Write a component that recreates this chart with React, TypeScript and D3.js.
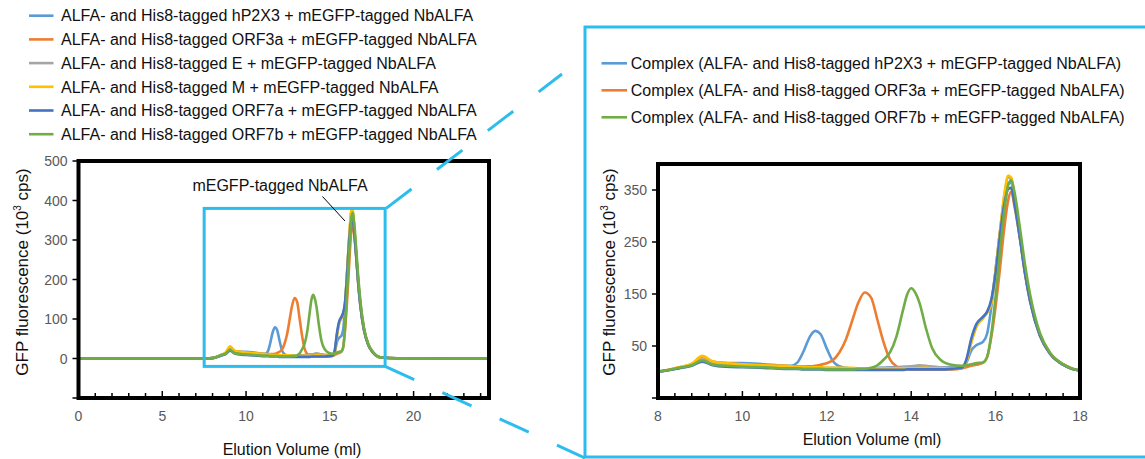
import { useEffect, useRef } from 'react';
import * as d3 from 'd3';

// elution volume (ml) sampling points shared by all traces
const volumes = [0, 7.6, 8.0, 8.5, 8.8, 9.05, 9.3, 9.6, 10.0, 10.5, 11.0, 11.15, 11.3, 11.45, 11.6, 11.73, 11.85, 12.0, 12.15, 12.3,
  12.45, 12.6, 12.75, 12.9, 13.05, 13.2, 13.35, 13.5, 13.65, 13.8, 13.9, 14.0, 14.1, 14.2, 14.35, 14.5, 14.7, 14.95, 15.2, 15.3,
  15.43, 15.55, 15.7, 15.8, 15.9, 16.0, 16.1, 16.2, 16.3, 16.37, 16.45, 16.58, 16.7, 16.82, 17.05, 17.3, 17.6, 18.0, 19.0, 24.5];

// GFP fluorescence (10^3 cps)
const hP2X3 = [0, 0, 1, 8, 13, 23, 17, 17, 17, 15, 12, 12, 18, 40, 68, 79, 73, 45, 20, 11,
  8, 7, 7, 7, 7, 8, 8, 9, 9, 10, 10, 10, 10, 10, 10, 10, 9, 9, 10, 17,
  42, 52, 58, 74, 126, 196, 267, 324, 362, 364, 330, 258, 190, 138, 70, 34, 14, 3, 0.5, 0];
const orf3a = [0, 0, 1, 9, 15, 29, 20, 17, 15, 13, 12, 11, 11, 11, 11, 12, 14, 17, 23, 38,
  62, 98, 134, 153, 143, 100, 56, 24, 11, 7, 6, 5, 5, 5, 5, 5, 5, 5, 7, 9,
  12, 14, 18, 29, 68, 126, 196, 273, 331, 347, 318, 255, 188, 135, 70, 34, 14, 3, 0.5, 0];
const eProt = [0, 0, 1, 8, 14, 24, 17, 15, 13, 11, 10, 10, 9, 9, 9, 8, 8, 8, 8, 8,
  7, 7, 7, 7, 7, 7, 8, 8, 8, 9, 10, 11, 12, 13, 12, 10, 9, 8, 9, 20,
  60, 88, 104, 115, 135, 196, 267, 335, 374, 372, 335, 262, 195, 140, 72, 35, 15, 3, 0.5, 0];
const mProt = [0, 0, 1, 9, 16, 31, 20, 17, 15, 13, 12, 11, 10, 10, 9, 9, 9, 8, 8, 8,
  8, 8, 7, 7, 7, 7, 7, 7, 7, 7, 7, 7, 7, 8, 8, 7, 7, 7, 8, 18,
  58, 88, 103, 114, 132, 196, 267, 337, 378, 374, 336, 262, 195, 140, 72, 35, 15, 3, 0.5, 0];
const orf7a = [0, 0, 1, 7, 12, 20, 13, 10, 9, 8, 6, 6, 6, 5, 5, 5, 5, 4, 4, 4,
  4, 4, 4, 4, 4, 4, 4, 4, 4, 4, 5, 5, 5, 5, 5, 5, 5, 6, 8, 22,
  66, 93, 106, 116, 140, 190, 260, 320, 352, 354, 322, 255, 188, 135, 70, 34, 14, 3, 0.5, 0];
const orf7b = [0, 0, 1, 8, 13, 22, 14, 12, 10, 9, 7, 7, 7, 6, 6, 6, 6, 5, 5, 5,
  5, 5, 6, 6, 8, 13, 24, 38, 68, 117, 148, 161, 152, 132, 84, 45, 23, 14, 12, 13,
  15, 17, 18, 29, 74, 145, 228, 305, 360, 369, 345, 275, 205, 148, 75, 36, 15, 3, 0.5, 0];

const leftLabels = [
  'ALFA- and His8-tagged hP2X3 + mEGFP-tagged NbALFA',
  'ALFA- and His8-tagged ORF3a + mEGFP-tagged NbALFA',
  'ALFA- and His8-tagged E + mEGFP-tagged NbALFA',
  'ALFA- and His8-tagged M + mEGFP-tagged NbALFA',
  'ALFA- and His8-tagged ORF7a + mEGFP-tagged NbALFA',
  'ALFA- and His8-tagged ORF7b + mEGFP-tagged NbALFA',
];
const rightLabels = [
  'Complex (ALFA- and His8-tagged hP2X3 + mEGFP-tagged NbALFA)',
  'Complex (ALFA- and His8-tagged ORF3a + mEGFP-tagged NbALFA)',
  'Complex (ALFA- and His8-tagged ORF7b + mEGFP-tagged NbALFA)',
];
const colors = ['#5B9BD5', '#ED7D31', '#A5A5A5', '#FFC000', '#4472C4', '#70AD47'];

const leftXTicks = [0, 5, 10, 15, 20];
const leftYTicks = [0, 100, 200, 300, 400, 500];
const rightXTicks = [8, 10, 12, 14, 16, 18];
const rightYTicks = [50, 150, 250, 350];

const FONT = 'Arial, "Liberation Sans", sans-serif';
const ZOOM_BLUE = '#2CBDEE';

function App() {
  const ref = useRef<SVGSVGElement | null>(null);

  useEffect(() => {
    const svg = d3.select(ref.current);
    svg.selectAll('*').remove();

    const series = [hP2X3, orf3a, eProt, mProt, orf7a, orf7b].map((vals, i) => ({
      color: colors[i],
      points: volumes.map((v, j) => [v, vals[j]] as [number, number]),
    }));

    const drawPanel = (opts: {
      id: string; x: d3.ScaleLinear<number, number>; y: d3.ScaleLinear<number, number>;
      xTicks: number[]; yTicks: number[]; yTickAll: number[]; minorStep: number; majorStep: number;
      titleX: number; titleYX: number; xTitleY: number;
    }) => {
      const { x, y } = opts;
      const [x0, x1] = x.range();
      const [yb, yt] = y.range();
      const g = svg.append('g');

      g.append('clipPath').attr('id', opts.id)
        .append('rect').attr('x', x0).attr('y', yt).attr('width', x1 - x0).attr('height', yb - yt);

      const line = d3.line<[number, number]>()
        .x(d => x(d[0]))
        .y(d => y(d[1]))
        .curve(d3.curveMonotoneX);

      g.append('g').attr('clip-path', `url(#${opts.id})`)
        .selectAll('path')
        .data(series)
        .enter()
        .append('path')
        .attr('d', d => line(d.points))
        .attr('fill', 'none')
        .attr('stroke', d => d.color)
        .attr('stroke-width', 2.6)
        .attr('stroke-linejoin', 'round');

      // frame
      g.append('rect')
        .attr('x', x0).attr('y', yt).attr('width', x1 - x0).attr('height', yb - yt)
        .attr('fill', 'none').attr('stroke', '#000').attr('stroke-width', 4);

      // y ticks (outward) and labels
      opts.yTickAll.forEach(t => {
        g.append('line').attr('x1', x0 - 6).attr('x2', x0).attr('y1', y(t)).attr('y2', y(t))
          .attr('stroke', '#000').attr('stroke-width', 1.5);
      });
      g.selectAll('text.ytick').data(opts.yTicks).enter().append('text')
        .attr('x', x0 - 11).attr('y', d => y(d) + 5)
        .attr('text-anchor', 'end')
        .style('font-family', FONT).style('font-size', '14px').style('fill', '#595959')
        .text(d => d);

      // x ticks (inward)
      const [d0, d1] = x.domain();
      const steps = Math.floor((d1 - d0) / opts.minorStep + 1e-6);
      for (let k = 1; k <= steps; k++) {
        const v = d0 + k * opts.minorStep;
        const major = Math.abs(v / opts.majorStep - Math.round(v / opts.majorStep)) < 1e-6;
        g.append('line').attr('x1', x(v)).attr('x2', x(v))
          .attr('y1', yb).attr('y2', yb - (major ? 7 : 5))
          .attr('stroke', '#000').attr('stroke-width', 1.5);
      }
      g.selectAll('text.xtick').data(opts.xTicks).enter().append('text')
        .attr('x', d => x(d)).attr('y', 421)
        .attr('text-anchor', 'middle')
        .style('font-family', FONT).style('font-size', '14px').style('fill', '#595959')
        .text(d => d);

      // axis titles
      g.append('text')
        .attr('x', opts.titleX).attr('y', opts.xTitleY)
        .attr('text-anchor', 'middle')
        .style('font-family', FONT).style('font-size', '16px').style('fill', '#111')
        .text('Elution Volume (ml)');

      const yt2 = g.append('text')
        .attr('transform', `translate(${opts.titleYX},272) rotate(-90)`)
        .attr('text-anchor', 'middle')
        .style('font-family', FONT).style('font-size', '17px').style('fill', '#111');
      yt2.append('tspan').text('GFP fluorescence (10');
      yt2.append('tspan').attr('dy', -7).style('font-size', '10px').text('3');
      yt2.append('tspan').attr('dy', 7).text(' cps)');
    };

    // left panel
    const xL = d3.scaleLinear().domain([0, 24.5]).range([78.5, 489]);
    const yL = d3.scaleLinear().domain([-100, 500]).range([398, 161]);
    drawPanel({
      id: 'clipL', x: xL, y: yL, xTicks: leftXTicks, yTicks: leftYTicks,
      yTickAll: [-100, ...leftYTicks], minorStep: 1, majorStep: 5,
      titleX: 292, titleYX: 28, xTitleY: 455,
    });

    // right panel
    const xR = d3.scaleLinear().domain([8, 18]).range([658, 1080]);
    const yR = d3.scaleLinear().domain([-50, 400]).range([398, 164]);
    drawPanel({
      id: 'clipR', x: xR, y: yR, xTicks: rightXTicks, yTicks: rightYTicks,
      yTickAll: [-50, ...rightYTicks], minorStep: 0.4, majorStep: 2,
      titleX: 872, titleYX: 615, xTitleY: 445,
    });

    // zoom region on the left panel
    const zx0 = xL(7.5), zx1 = xL(18.3), zy0 = yL(380), zy1 = yL(-20);
    svg.append('rect')
      .attr('x', zx0).attr('y', zy0).attr('width', zx1 - zx0).attr('height', zy1 - zy0)
      .attr('fill', 'none').attr('stroke', ZOOM_BLUE).attr('stroke-width', 3);

    // enlarged view frame
    svg.append('rect')
      .attr('x', 585).attr('y', 27).attr('width', 600).attr('height', 430)
      .attr('fill', 'none').attr('stroke', ZOOM_BLUE).attr('stroke-width', 3);

    // dashed connectors
    svg.append('line')
      .attr('x1', zx1 + 1).attr('y1', zy0).attr('x2', 562).attr('y2', 74)
      .attr('stroke', ZOOM_BLUE).attr('stroke-width', 3).attr('stroke-dasharray', '32 32');
    svg.append('line')
      .attr('x1', zx1).attr('y1', zy1).attr('x2', 585).attr('y2', 458)
      .attr('stroke', ZOOM_BLUE).attr('stroke-width', 3).attr('stroke-dasharray', '32 31');

    // annotation
    svg.append('text')
      .attr('x', 280).attr('y', 191)
      .attr('text-anchor', 'middle')
      .style('font-family', FONT).style('font-size', '16px').style('fill', '#111')
      .text('mEGFP-tagged NbALFA');
    svg.append('line')
      .attr('x1', 322.5).attr('y1', 196.5).attr('x2', 345).attr('y2', 221)
      .attr('stroke', '#000').attr('stroke-width', 1);

    // left legend
    const legL = svg.append('g');
    leftLabels.forEach((label, i) => {
      const cy = 15.7 + i * 23.7;
      legL.append('line').attr('x1', 29).attr('x2', 53.5).attr('y1', cy).attr('y2', cy)
        .attr('stroke', colors[i]).attr('stroke-width', 2.6);
      legL.append('text').attr('x', 61).attr('y', cy + 5.7)
        .style('font-family', FONT).style('font-size', '16px').style('fill', '#111')
        .text(label);
    });

    // right legend
    const rightColors = [colors[0], colors[1], colors[5]];
    const legR = svg.append('g');
    rightLabels.forEach((label, i) => {
      const cy = 63.3 + i * 27;
      legR.append('line').attr('x1', 601.5).attr('x2', 627).attr('y1', cy).attr('y2', cy)
        .attr('stroke', rightColors[i]).attr('stroke-width', 2.6);
      legR.append('text').attr('x', 630.7).attr('y', cy + 5.7)
        .style('font-family', FONT).style('font-size', '16px').style('fill', '#111')
        .text(label);
    });
  }, []);

  return (
    <svg ref={ref} width={1145} height={459}
      style={{ position: 'absolute', left: 0, top: 0, background: '#fff' }} />
  );
}

export default App;
